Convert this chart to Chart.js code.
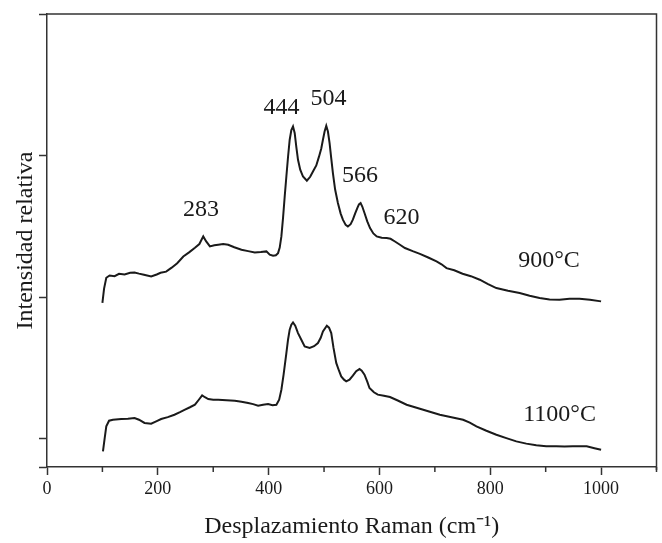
<!DOCTYPE html>
<html>
<head>
<meta charset="utf-8">
<script src="https://cdn.jsdelivr.net/npm/chart.js@4"></script>
<style>
  body { margin: 0; background: #fff; }
  #wrap { width: 662px; height: 543px; position: relative; }
</style>
</head>
<body>
<div id="wrap"><canvas id="ramanChart"></canvas></div>
<script>
// Raman shift (cm-1) and relative intensity
const shift900 = [100, 103, 107, 113, 122, 130, 140, 150, 158, 166, 175, 188, 198, 205, 215, 225, 235, 246, 257, 267,
  275, 282, 287, 294, 302, 309, 318, 327, 338, 351, 363, 375, 386, 396, 402, 408, 413, 417, 420, 423,
  426, 429, 432, 435, 438, 441, 444, 447, 450, 453, 457, 462, 469, 475, 480, 486, 491, 495, 498, 501,
  504, 507, 510, 513, 516, 520, 525, 530, 534, 539, 543, 548, 552, 556, 560, 563, 566, 569, 573, 578,
  583, 589, 595, 604, 613, 620, 628, 637, 646, 660, 673, 688, 703, 712, 721, 735, 750, 765, 781, 796,
  811, 832, 853, 871, 889, 907, 925, 943, 961, 980, 1000];
const int900 = [0.96, 1.06, 1.137, 1.153, 1.148, 1.165, 1.16, 1.172, 1.174, 1.166, 1.158, 1.146, 1.16, 1.172, 1.18, 1.208, 1.24, 1.287, 1.318, 1.349,
  1.375, 1.429, 1.395, 1.358, 1.366, 1.37, 1.375, 1.37, 1.352, 1.335, 1.325, 1.316, 1.318, 1.323, 1.3, 1.292, 1.296, 1.311, 1.35, 1.429,
  1.56, 1.711, 1.852, 1.99, 2.112, 2.18, 2.206, 2.16, 2.06, 1.97, 1.9, 1.852, 1.822, 1.85, 1.888, 1.93, 1.994, 2.05, 2.112, 2.17,
  2.21, 2.17, 2.088, 1.98, 1.876, 1.76, 1.665, 1.59, 1.547, 1.51, 1.499, 1.515, 1.547, 1.59, 1.629, 1.655, 1.665, 1.64, 1.594, 1.535,
  1.488, 1.45, 1.429, 1.42, 1.417, 1.412, 1.393, 1.37, 1.347, 1.325, 1.306, 1.28, 1.252, 1.232, 1.205, 1.19, 1.165, 1.148, 1.123, 1.092,
  1.064, 1.045, 1.029, 1.01, 0.994, 0.984, 0.982, 0.988, 0.989, 0.982, 0.97];

const shift1100 = [101, 104, 107, 112, 119, 134, 146, 158, 166, 176, 188, 198, 206, 218, 230, 240, 249, 258, 267, 274,
  280, 285, 291, 300, 309, 324, 339, 351, 363, 372, 381, 390, 399, 407, 414, 419, 423, 427, 432, 435,
  438, 441, 444, 448, 453, 459, 465, 474, 482, 489, 494, 498, 505, 509, 513, 517, 522, 527, 531, 536,
  540, 546, 552, 558, 564, 568, 573, 578, 582, 590, 597, 608, 619, 634, 649, 664, 679, 694, 709, 730,
  751, 763, 775, 793, 811, 829, 847, 865, 883, 901, 919, 934, 949, 962, 974, 988, 1000];
const int1100 = [-0.09, 0.0, 0.087, 0.127, 0.134, 0.139, 0.141, 0.146, 0.134, 0.111, 0.106, 0.124, 0.139, 0.152, 0.169, 0.187, 0.205, 0.222, 0.24, 0.275,
  0.306, 0.293, 0.28, 0.275, 0.275, 0.272, 0.268, 0.261, 0.252, 0.244, 0.233, 0.24, 0.245, 0.237, 0.24, 0.275, 0.346, 0.452, 0.605, 0.699,
  0.77, 0.805, 0.821, 0.798, 0.746, 0.699, 0.652, 0.641, 0.653, 0.676, 0.713, 0.758, 0.798, 0.784, 0.746, 0.643, 0.535, 0.48, 0.44, 0.417,
  0.405, 0.417, 0.445, 0.477, 0.492, 0.48, 0.452, 0.403, 0.358, 0.328, 0.311, 0.304, 0.294, 0.268, 0.24, 0.222, 0.205, 0.187, 0.169, 0.152,
  0.134, 0.113, 0.087, 0.056, 0.028, 0.004, -0.019, -0.035, -0.047, -0.053, -0.054, -0.056, -0.054, -0.053, -0.054, -0.067, -0.078];

const xTickLabels = [0, 200, 400, 600, 800, 1000];
const peakLabels = ['283', '444', '504', '566', '620'];
const peakAt = [[278, 1.62], [423, 2.34], [508, 2.40], [565, 1.86], [640, 1.56]];
const seriesLabels = ['900°C', '1100°C'];
const seriesLabelAt = [[906, 1.26], [925, 0.17]];

const ink = '#1a1a1a';
const serif = 'Liberation Serif, Times New Roman, serif';

function toPoints(xs, ys) {
  return xs.map((x, i) => ({ x: x, y: ys[i] }));
}

// frame, minor ticks and in-plot labels
const decorations = {
  id: 'decorations',
  afterDraw(chart) {
    const { ctx, chartArea: a, scales: { x, y } } = chart;
    ctx.save();
    ctx.strokeStyle = '#333';
    ctx.lineWidth = 1.5;
    ctx.beginPath();
    ctx.moveTo(a.left, a.top);
    ctx.lineTo(a.right, a.top);
    ctx.lineTo(a.right, a.bottom + 3);
    ctx.stroke();
    ctx.beginPath();
    for (let v = 100; v <= 1100; v += 200) {
      const px = x.getPixelForValue(v);
      ctx.moveTo(px, a.bottom);
      ctx.lineTo(px, a.bottom + 5);
    }
    ctx.stroke();

    ctx.fillStyle = ink;
    ctx.textAlign = 'center';
    ctx.textBaseline = 'middle';
    ctx.font = '24px ' + serif;
    peakLabels.forEach((t, i) => {
      ctx.fillText(t, x.getPixelForValue(peakAt[i][0]), y.getPixelForValue(peakAt[i][1]));
    });
    seriesLabels.forEach((t, i) => {
      ctx.fillText(t, x.getPixelForValue(seriesLabelAt[i][0]), y.getPixelForValue(seriesLabelAt[i][1]));
    });
    ctx.restore();
  }
};

const ctx = document.querySelector('#ramanChart').getContext('2d');
new Chart(ctx, {
  type: 'line',
  data: {
    datasets: [
      { label: seriesLabels[0], data: toPoints(shift900, int900) },
      { label: seriesLabels[1], data: toPoints(shift1100, int1100) }
    ]
  },
  options: {
    responsive: true,
    maintainAspectRatio: false,
    animation: false,
    parsing: true,
    elements: {
      line: { borderColor: ink, borderWidth: 2, tension: 0, fill: false },
      point: { radius: 0 }
    },
    layout: { padding: { top: 14, right: 5.5, left: 0, bottom: 0 } },
    plugins: {
      legend: { display: false },
      tooltip: { enabled: false }
    },
    scales: {
      x: {
        type: 'linear',
        min: 0,
        max: 1100,
        afterFit(scale) { scale.height = 76; },
        border: { color: '#333', width: 1.5 },
        grid: {
          drawOnChartArea: false,
          tickLength: 8,
          tickWidth: 1.5,
          tickColor: c => (c.tick && c.tick.value % 200 === 0 ? '#333' : 'rgba(0,0,0,0)')
        },
        ticks: {
          stepSize: 100,
          autoSkip: false,
          maxRotation: 0,
          padding: 3,
          color: ink,
          font: { family: serif, size: 18 },
          callback: v => (xTickLabels.includes(v) ? String(v) : '')
        },
        title: {
          display: true,
          text: 'Desplazamiento Raman (cm⁻¹)',
          color: ink,
          font: { family: serif, size: 24 },
          padding: { top: 0, bottom: 2 }
        }
      },
      y: {
        type: 'linear',
        min: -0.2,
        max: 3,
        afterFit(scale) { scale.width = 47; },
        border: { color: '#333', width: 1.5 },
        grid: { drawOnChartArea: false, tickLength: 8, tickWidth: 1.5, tickColor: '#333' },
        ticks: { stepSize: 1, padding: 0, callback: () => '' },
        title: {
          display: true,
          text: 'Intensidad relativa',
          color: ink,
          font: { family: serif, size: 24 },
          padding: { top: 11, bottom: 0 }
        }
      }
    }
  },
  plugins: [decorations]
});
</script>
</body>
</html>
